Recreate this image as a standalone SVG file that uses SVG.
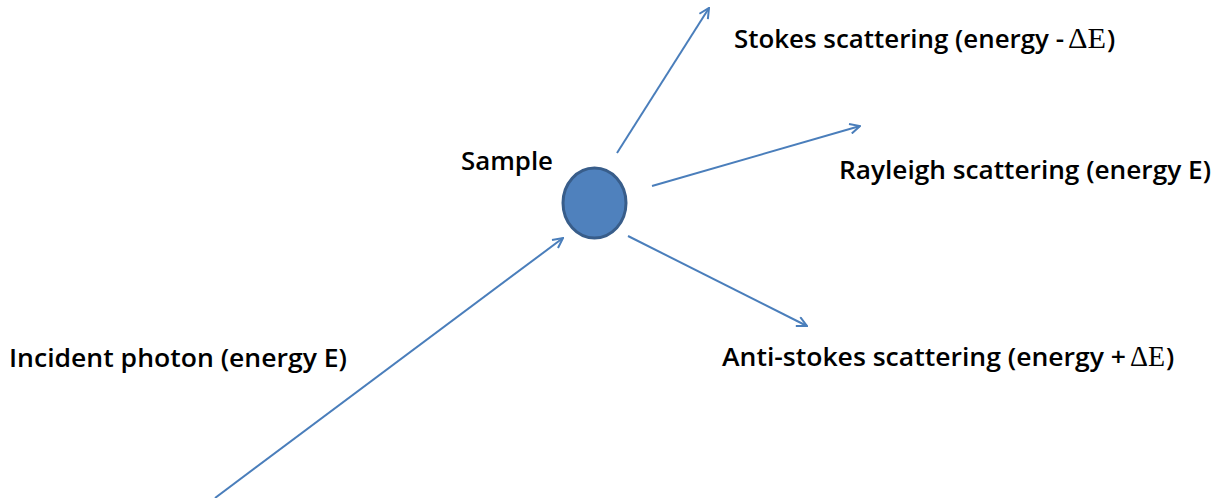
<svg xmlns="http://www.w3.org/2000/svg" width="1226" height="498" viewBox="0 0 1226 498">
<style>
.lbl{font-family:"Open Sans","Liberation Sans",Arial,sans-serif;font-size:26px;font-weight:600;fill:#000}
.sym{font-family:"Liberation Serif","Times New Roman",serif;font-size:30px;fill:#000}
.conn{stroke:#4A7EBB;stroke-width:2;fill:none;marker-end:url(#arr)}
</style>
<defs>
<marker id="arr" viewBox="0 0 12 12" refX="11" refY="6" markerWidth="12" markerHeight="12" markerUnits="userSpaceOnUse" orient="auto">
<path d="M1,1 L11,6 L1,11" fill="none" stroke="#4A7EBB" stroke-width="2"/>
</marker>
</defs>
<rect width="1226" height="498" fill="#fff"/>
<g id="connectors">
<line class="conn" x1="215" y1="498" x2="563" y2="238"/>
<line class="conn" x1="617" y1="153" x2="709" y2="8"/>
<line class="conn" x1="652" y1="186" x2="860" y2="126"/>
<line class="conn" x1="628" y1="236" x2="807" y2="326"/>
</g>
<g id="sample">
<ellipse cx="594.5" cy="203" rx="31.5" ry="35" fill="#4F81BD" stroke="#385D8A" stroke-width="3"/>
<text class="lbl" x="461" y="170" textLength="92" lengthAdjust="spacingAndGlyphs">Sample</text>
</g>
<g id="incident">
<text class="lbl" x="9" y="367" textLength="338" lengthAdjust="spacingAndGlyphs">Incident photon (energy E)</text>
</g>
<g id="stokes">
<text class="lbl" x="734" y="48" textLength="330" lengthAdjust="spacingAndGlyphs">Stokes scattering (energy -</text>
<text class="sym" x="1068" y="48" textLength="38" lengthAdjust="spacingAndGlyphs">ΔE</text>
<text class="lbl" x="1107" y="48">)</text>
</g>
<g id="rayleigh">
<text class="lbl" x="839" y="179" textLength="372" lengthAdjust="spacingAndGlyphs">Rayleigh scattering (energy E)</text>
</g>
<g id="antistokes">
<text class="lbl" x="722" y="366" textLength="404" lengthAdjust="spacingAndGlyphs">Anti-stokes scattering (energy +</text>
<text class="sym" x="1130" y="366" textLength="35" lengthAdjust="spacingAndGlyphs">ΔE</text>
<text class="lbl" x="1166" y="366">)</text>
</g>
</svg>
